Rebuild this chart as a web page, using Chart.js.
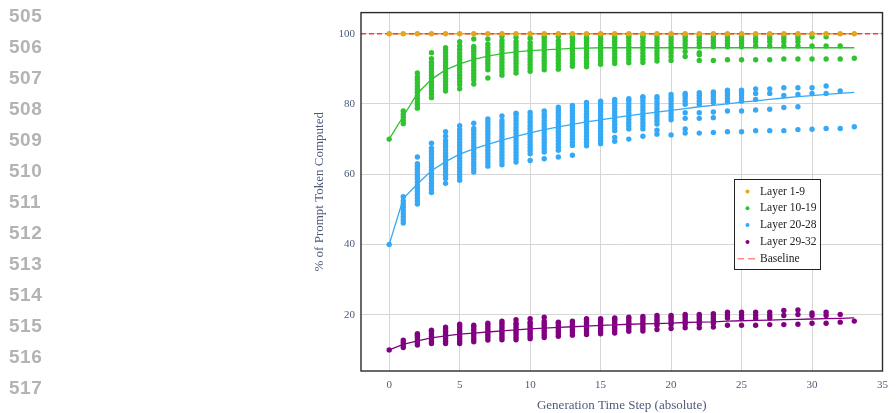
<!DOCTYPE html>
<html>
<head>
<meta charset="utf-8">
<script src="https://cdn.jsdelivr.net/npm/chart.js@4.4.1/dist/chart.umd.min.js"></script>
<style>
  body { margin: 0; background: #fff; }
  #contenedor_graf { position: absolute; left: 0; top: 0; width: 896px; height: 413px; }
  .linea { position: absolute; left: 9px; height: 20px; line-height: 20px;
           font-family: "Liberation Sans", Arial, sans-serif; font-weight: bold;
           font-size: 19px; color: #b3b3b3; letter-spacing: 0.5px; }
</style>
</head>
<body>
<div id="contenedor_graf"><canvas id="myChart" width="896" height="413"></canvas></div>
<div id="numeros"></div>
<script>
// generation steps (x categories)
var steps = [0,1,2,3,4,5,6,7,8,9,10,11,12,13,14,15,16,17,18,19,20,21,22,23,24,25,26,27,28,29,30,31,32,33];
var xTicks = [0,5,10,15,20,25,30,35];
var yTicks = [20,40,60,80,100];
var lineNumbers = [505,506,507,508,509,510,511,512,513,514,515,516,517];
var baseline = 100;

// scatter values, one list per generation step
var layer1_9 = [[100],[100],[100],[100],[100],[100],[100],[100],[100],[100],[100],[100],[100],[100],[100],[100],[100],
  [100],[100],[100],[100],[100],[100],[100],[100],[100],[100],[100],[100],[100],[100],[100],[100],[100]];

var layer10_19 = [
  [70],
  [74.4,75.3,76.2,77.1,78.0],
  [78.8,79.7,80.6,81.5,82.4,83.3,84.2,85.1,86.0,86.9,87.7,88.8],
  [81.8,82.8,83.7,84.6,85.5,86.4,87.3,88.2,89.1,90.0,90.9,91.8,92.9,94.6],
  [83.7,84.6,85.5,86.4,87.3,88.2,89.1,90.0,90.9,91.8,92.7,93.6,94.5,95.4,96.0],
  [84.3,85.5,86.4,87.3,88.2,89.1,90.0,90.9,91.8,92.7,93.6,94.5,95.5,96.5,97.7],
  [85.7,86.9,87.8,88.7,89.6,90.5,91.4,92.3,93.2,94.1,95.0,95.8,96.4,98.5],
  [87.4,89.7,90.6,91.5,92.4,93.3,94.2,95.1,96.0,97.0,98.5],
  [88.2,89.1,90.0,90.9,91.8,92.7,93.6,94.5,95.4,96.3,97.2,98.1,99.3],
  [88.8,89.7,90.6,91.5,92.4,93.3,94.2,95.1,96.0,96.9,97.8,99.0],
  [89.3,90.2,91.1,92.0,92.9,93.8,94.7,95.6,96.5,97.4,98.7],
  [89.7,90.6,91.5,92.4,93.3,94.2,95.1,96.0,96.9,97.8,98.6,99.2],
  [89.9,90.8,91.7,92.6,93.5,94.4,95.3,96.2,97.1,98.0,99.2],
  [90.7,91.6,92.5,93.4,94.3,95.2,96.1,97.0,97.9,98.8,99.3],
  [90.6,91.5,92.4,93.3,94.2,95.1,96.0,96.9,97.8,98.7,99.6],
  [91.3,92.2,93.1,94.0,94.9,95.8,96.7,97.6,98.5,99.4],
  [91.5,92.4,93.3,94.2,95.1,96.0,96.9,97.8,98.7,99.4],
  [91.7,92.6,93.5,94.4,95.3,96.2,97.1,98.0,98.9,99.4],
  [91.8,92.7,93.6,94.5,95.4,96.3,97.2,98.1,99.0,99.4],
  [92.2,93.1,94.0,94.9,95.8,96.7,97.6,98.5,99.4],
  [92.4,93.5,94.6,95.5,96.4,97.3,98.2,99.1],
  [93.5,94.9,96.1,97.0,97.9,98.8,99.5],
  [92.4,94.0,94.6,96.3,97.2,98.1,99.0,99.6],
  [92.4,96.3,97.2,98.1,99.0,99.6],
  [92.6,96.3,97.2,98.1,99.0,99.6],
  [92.6,96.3,97.2,98.1,99.0,99.6],
  [92.6,96.5,97.7,98.6,99.6],
  [92.6,96.5,97.7,98.6,99.4],
  [92.8,96.5,97.7,98.6,99.4],
  [92.8,96.5,97.7,98.6,99.4],
  [92.8,96.5,99.1],
  [92.8,96.5,99.1],
  [92.8,96.5],
  [93.0]
];

var layer20_28 = [
  [40],
  [46.1,47.0,47.9,48.8,49.7,50.6,51.5,52.4,53.6],
  [51.5,52.4,53.3,54.2,55.1,56.0,56.9,57.8,58.7,59.6,60.5,61.4,62.3,63.0,64.9],
  [54.8,55.7,56.6,57.5,58.4,59.3,60.2,61.1,62.0,62.9,63.8,64.7,65.6,66.5,67.4,68.8],
  [57.4,58.8,59.7,60.6,61.5,62.4,63.3,64.2,65.1,66.0,66.9,67.8,68.7,69.6,70.8,72.1],
  [58.3,59.2,60.1,61.0,61.9,62.8,63.7,64.6,65.5,66.4,67.3,68.2,69.1,70.0,70.9,71.8,72.7,73.8],
  [60.6,61.5,62.4,63.3,64.2,65.1,66.0,66.9,67.8,68.7,69.6,70.5,71.4,72.3,73.0,74.5],
  [62.3,63.2,64.1,65.0,65.9,66.8,67.7,68.6,69.5,70.4,71.3,72.2,73.1,74.0,74.9,75.7],
  [62.7,63.6,64.5,65.4,66.3,67.2,68.1,69.0,69.9,70.8,71.7,72.6,73.5,74.4,75.3,76.6],
  [63.5,64.4,65.3,66.2,67.1,68.0,68.9,69.8,70.7,71.6,72.5,73.4,74.3,75.2,76.1,77.0,77.4],
  [63.9,65.8,66.7,67.6,68.5,69.4,70.3,71.2,72.1,73.0,73.9,74.8,75.7,76.6,77.6],
  [64.4,66.3,67.2,68.1,69.0,69.9,70.8,71.7,72.6,73.5,74.4,75.3,76.2,77.1,78.0],
  [64.9,66.8,67.7,68.6,69.5,70.4,71.3,72.2,73.1,74.0,74.9,75.8,76.7,77.6,78.4,79.1],
  [65.4,68.2,69.1,70.0,70.9,71.8,72.7,73.6,74.5,75.4,76.3,77.2,78.1,79.0,79.6],
  [68.1,69.0,69.9,70.8,71.7,72.6,73.5,74.4,75.3,76.2,77.1,78.0,78.9,79.7,80.4],
  [68.7,69.6,70.5,71.4,72.3,73.2,74.1,75.0,75.9,76.8,77.7,78.6,79.5,80.2,80.8],
  [69.4,70.5,72.4,73.3,74.2,75.1,76.0,76.9,77.8,78.7,79.6,80.5,81.3],
  [70.0,72.9,73.8,74.7,75.6,76.5,77.4,78.3,79.2,80.1,81.0,81.5],
  [70.8,72.9,73.8,74.7,75.6,76.5,77.4,78.3,79.2,80.1,81.0,81.8,82.1],
  [71.4,72.5,74.3,75.2,76.1,77.0,77.9,78.8,79.7,80.6,81.5,82.1],
  [71.2,75.5,76.4,77.3,78.2,79.1,80.0,80.9,81.8,82.7],
  [71.7,72.9,75.9,77.5,79.9,80.8,81.7,82.5,83.0],
  [71.7,75.9,77.5,79.9,80.8,81.7,82.5,83.2],
  [71.9,76.1,77.7,80.4,81.3,82.2,83.0,83.4],
  [72.1,78.0,80.6,81.5,82.4,83.2,83.9],
  [72.1,78.0,80.8,81.7,82.6,83.3,83.9],
  [72.4,78.3,81.3,83.0,84.3],
  [72.4,78.5,83.0,84.3],
  [72.4,79.0,82.4,84.6],
  [72.7,79.2,82.7,84.6],
  [72.8,83.0,84.6],
  [73.0,83.0,85.1],
  [73.0,83.7],
  [73.5]
];

var layer29_32 = [
  [10.0],
  [10.7,11.4,12.1,12.8],
  [11.4,12.1,12.8,13.5,14.2,14.6],
  [11.8,12.5,13.2,13.9,14.6,15.3,15.6],
  [11.8,12.5,13.2,13.9,14.6,15.3,16.0,16.5],
  [11.8,12.5,13.2,13.9,14.6,15.3,16.0,16.7,17.3],
  [12.3,13.0,13.7,14.4,15.1,15.8,16.5,17.0],
  [12.8,13.5,14.2,14.9,15.6,16.3,17.0,17.6],
  [12.9,13.6,14.3,15.0,15.7,16.4,17.1,17.7,18.2],
  [12.9,13.6,14.3,15.0,15.7,16.4,17.1,17.6,18.6],
  [13.2,13.9,14.6,15.3,16.0,16.7,17.4,17.9,18.9],
  [13.5,14.2,14.9,15.6,16.3,17.0,17.6,18.2,19.3],
  [13.9,14.6,15.3,16.0,16.7,17.4,17.9],
  [14.2,14.9,15.6,16.3,17.0,17.7,18.2],
  [14.4,15.1,15.8,16.5,17.2,17.9,18.5,18.9],
  [14.6,15.3,16.0,16.7,17.4,18.1,18.6,18.9],
  [14.8,15.5,16.2,16.9,17.6,18.3,18.8,19.1],
  [15.3,16.0,16.7,17.4,18.1,18.8,19.3],
  [15.4,16.1,16.8,17.5,18.2,18.9,19.5],
  [15.8,17.0,17.7,18.4,19.1,19.8],
  [16.1,17.2,17.9,18.6,19.3,19.8],
  [16.3,17.4,18.1,18.8,19.5,20.1],
  [16.3,17.4,18.1,18.8,19.5,20.1],
  [16.5,17.6,18.3,19.0,19.7,20.3],
  [17.0,19.1,19.8,20.7],
  [17.0,19.0,19.8,20.7],
  [17.0,19.0,19.8,20.7],
  [17.2,19.1,19.8,20.7],
  [17.2,19.8,21.2],
  [17.3,20.1,21.4],
  [17.6,19.8,20.5],
  [17.6,19.8,20.7],
  [17.9,20.1],
  [18.2]
];

// fitted curves, one value per step
var fit1_9 = [100,100,100,100,100,100,100,100,100,100,100,100,100,100,100,100,100,
  100,100,100,100,100,100,100,100,100,100,100,100,100,100,100,100,100];
var fit10_19 = [70,76.5,83.0,87.0,89.7,91.4,92.7,93.6,94.3,94.8,95.2,95.4,95.6,95.8,95.9,96.0,96.0,
  96.0,96.0,96.0,96.0,96.0,96.0,96.0,96.0,96.0,96.0,96.0,96.0,96.0,96.0,96.0,96.0,96.0];
var fit20_28 = [40,53.1,57.2,61.0,63.6,65.7,67.2,68.5,69.7,70.8,71.8,72.7,73.5,74.2,74.9,75.5,76.1,
  76.7,77.2,77.7,78.2,78.7,79.2,79.6,80.0,80.5,80.9,81.3,81.7,82.1,82.4,82.7,83.0,83.3];
var fit29_32 = [10,11.6,12.6,13.4,14.0,14.5,14.8,15.1,15.4,15.7,16.0,16.2,16.4,16.6,16.8,17.0,17.1,
  17.3,17.4,17.5,17.6,17.8,17.9,18.0,18.2,18.3,18.4,18.5,18.6,18.7,18.8,18.9,19.0,19.1];

var nombres = ["Layer 1-9", "Layer 10-19", "Layer 20-28", "Layer 29-32", "Baseline"];
var colores = ["#e3a61f", "#2fc42f", "#35a9f5", "#820082", "#ff3a3a"];

var numeros = document.getElementById("numeros");
lineNumbers.forEach(function(n, i){
  var d = document.createElement("div");
  d.className = "linea";
  d.style.top = (5.5 + i * 31) + "px";
  d.textContent = n;
  numeros.appendChild(d);
});

function puntos(cols){
  var out = [];
  steps.forEach(function(s, i){
    cols[i].forEach(function(v){ out.push({x: s, y: v}); });
  });
  return out;
}
function curva(vals){
  return steps.map(function(s, i){ return {x: s, y: vals[i]}; });
}

var serif = "'Liberation Serif', 'Times New Roman', serif";

var framePlugin = {
  id: "frame",
  afterDraw: function(chart){
    var c = chart.ctx, a = chart.chartArea;
    c.save();
    c.strokeStyle = "#2a2a2a";
    c.lineWidth = 1.4;
    c.strokeRect(a.left, a.top, a.right - a.left, a.bottom - a.top);
    // legend box
    var lx = 734, ly = 179, lw = 86, lh = 90;
    c.fillStyle = "#fff";
    c.fillRect(lx, ly, lw, lh);
    c.strokeStyle = "#222";
    c.lineWidth = 1;
    c.strokeRect(lx + 0.5, ly + 0.5, lw, lh);
    c.font = "11.5px " + serif;
    c.textBaseline = "middle";
    nombres.forEach(function(nm, i){
      var yy = ly + 12.5 + i * 16.8;
      if (i < 4) {
        c.fillStyle = colores[i];
        c.beginPath();
        c.arc(lx + 13.5, yy, 2, 0, Math.PI * 2);
        c.fill();
      } else {
        c.strokeStyle = "#ff8a8a";
        c.lineWidth = 1.5;
        c.beginPath();
        c.moveTo(lx + 3.5, yy); c.lineTo(lx + 10, yy);
        c.moveTo(lx + 14, yy); c.lineTo(lx + 21, yy);
        c.stroke();
      }
      c.fillStyle = "#222";
      c.fillText(nm, lx + 26, yy);
    });
    c.restore();
  }
};

var ctx = document.getElementById("myChart");
var myChart = new Chart(ctx, {
  type: "scatter",
  data: {
    datasets: [
      { label: nombres[0], data: puntos(layer1_9), backgroundColor: colores[0], pointRadius: 2.7, pointBorderWidth: 0, order: 0 },
      { label: "baseline", type: "line", data: [{x: -2, y: baseline}, {x: 35, y: baseline}], borderColor: colores[4],
        borderWidth: 1.5, borderDash: [5, 3], pointRadius: 0, fill: false, order: 1 },
      { label: "fit 1-9", type: "line", data: curva(fit1_9), borderColor: colores[0], borderWidth: 1.6, pointRadius: 0, order: 2 },
      { label: "fit 10-19", type: "line", data: curva(fit10_19), borderColor: colores[1], borderWidth: 1.3, pointRadius: 0, order: 3 },
      { label: "fit 20-28", type: "line", data: curva(fit20_28), borderColor: colores[2], borderWidth: 1.3, pointRadius: 0, order: 4 },
      { label: "fit 29-32", type: "line", data: curva(fit29_32), borderColor: colores[3], borderWidth: 1.3, pointRadius: 0, order: 5 },
      { label: nombres[1], data: puntos(layer10_19), backgroundColor: colores[1], pointRadius: 2.7, pointBorderWidth: 0, order: 6 },
      { label: nombres[2], data: puntos(layer20_28), backgroundColor: colores[2], pointRadius: 2.7, pointBorderWidth: 0, order: 7 },
      { label: nombres[3], data: puntos(layer29_32), backgroundColor: colores[3], pointRadius: 2.7, pointBorderWidth: 0, order: 8 }
    ]
  },
  options: {
    responsive: false,
    animation: false,
    devicePixelRatio: 1,
    layout: { padding: { left: 300, top: 9, right: 2, bottom: 0 } },
    plugins: { legend: { display: false }, tooltip: { enabled: false } },
    scales: {
      x: {
        type: "linear", min: -2, max: 35,
        afterBuildTicks: function(s){ s.ticks = xTicks.map(function(v){ return {value: v}; }); },
        afterFit: function(s){ s.height = 42; },
        grid: { color: "#d6d6d6", lineWidth: 1, drawTicks: false },
        border: { display: false },
        ticks: { padding: 8, color: "#4e5a7a", font: { family: serif, size: 11 } },
        title: { display: true, text: "Generation Time Step (absolute)", color: "#4e5a7a",
                 font: { family: serif, size: 13, lineHeight: 1.2 }, padding: { top: 0, bottom: 0 } }
      },
      y: {
        type: "linear", min: 4, max: 106,
        afterBuildTicks: function(s){ s.ticks = yTicks.map(function(v){ return {value: v}; }); },
        afterFit: function(s){ s.width = 61; },
        grid: { color: "#d6d6d6", lineWidth: 1, drawTicks: false },
        border: { display: false },
        ticks: { padding: 6, color: "#4e5a7a", font: { family: serif, size: 11 } },
        title: { display: true, text: "% of Prompt Token Computed", color: "#4e5a7a",
                 font: { family: serif, size: 13, lineHeight: 1.2 }, padding: { top: 12, bottom: 0 } }
      }
    }
  },
  plugins: [framePlugin]
});
</script>
</body>
</html>
